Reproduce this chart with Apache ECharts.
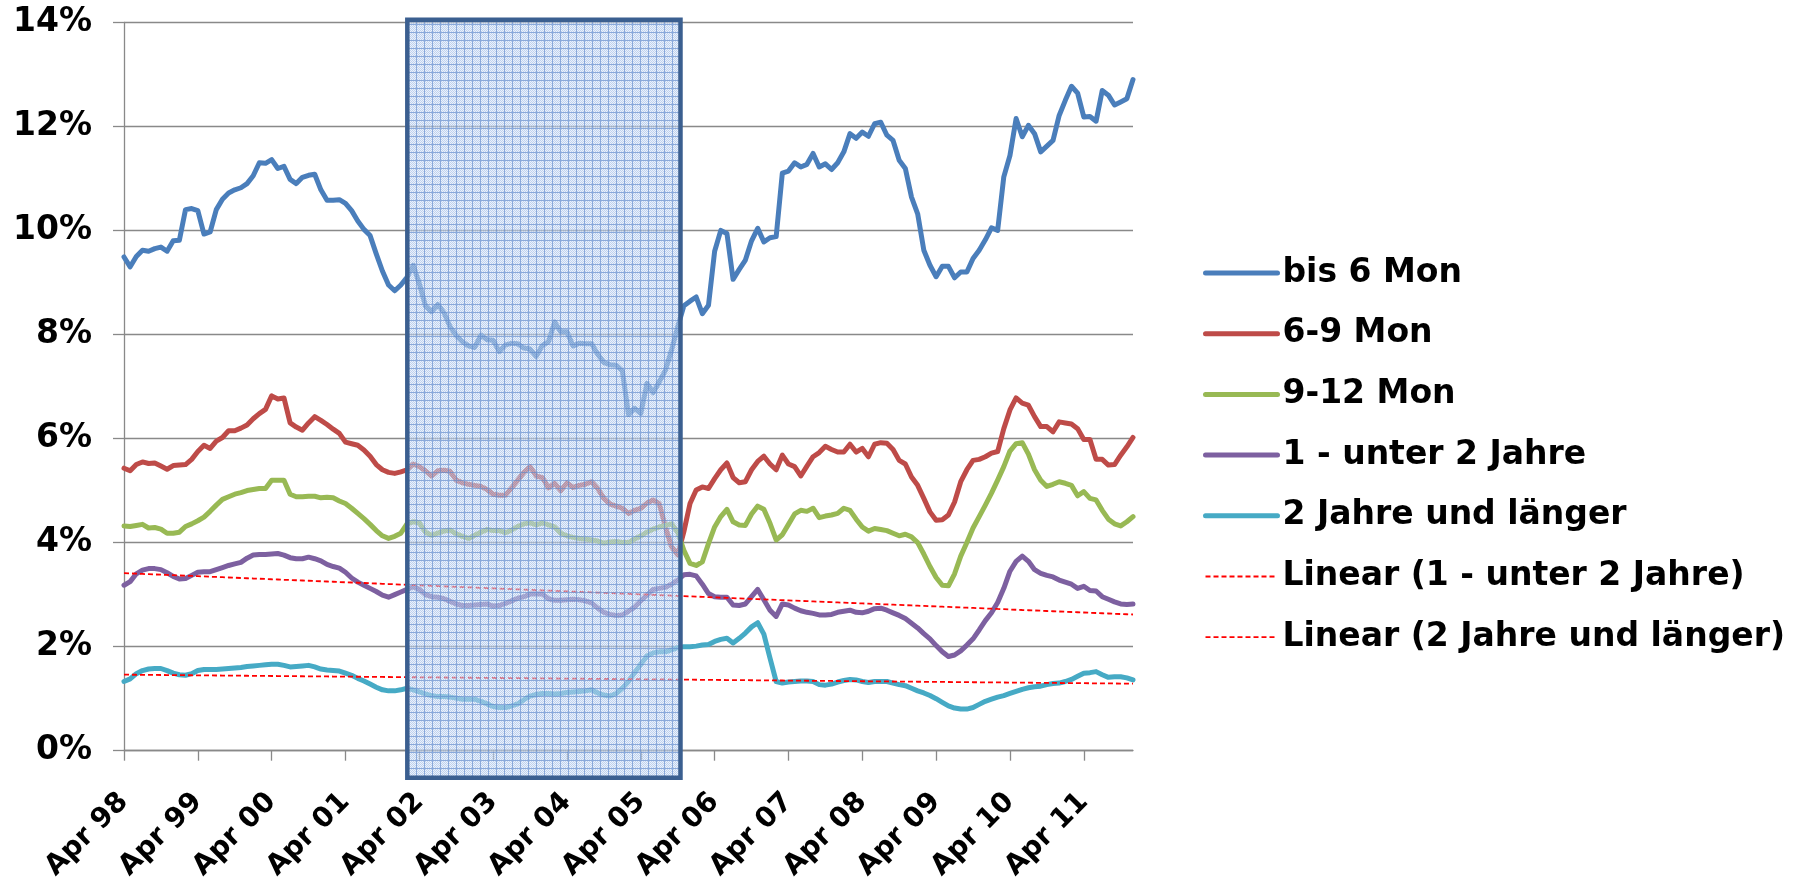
<!DOCTYPE html>
<html>
<head>
<meta charset="utf-8">
<script src="https://cdn.jsdelivr.net/npm/echarts@6/dist/echarts.min.js"></script>
<style>
  html, body { margin: 0; padding: 0; background: #ffffff; }
  #chart { width: 1798px; height: 881px; }
</style>
</head>
<body>
<div id="chart"></div>
<script>
// Monthly series, April 1998 to December 2011 (values in %)
const MONTH_NAMES = ['Jan', 'Feb', 'Mrz', 'Apr', 'Mai', 'Jun', 'Jul', 'Aug', 'Sep', 'Okt', 'Nov', 'Dez'];
const START_YEAR = 1998;
const START_MONTH = 3;      // April (0-based)
const MONTH_COUNT = 165;

const seriesNames = ['bis 6 Mon', '6-9 Mon', '9-12 Mon', '1 - unter 2 Jahre', '2 Jahre und länger'];
const trendNames = ['Linear (1 - unter 2 Jahre)', 'Linear (2 Jahre und länger)'];

const bis6Mon = [
  9.49, 9.30, 9.50, 9.62, 9.60, 9.65, 9.68, 9.60, 9.80, 9.81, 10.40, 10.42,
  10.38, 9.93, 9.97, 10.40, 10.60, 10.72, 10.78, 10.82, 10.90, 11.05, 11.30, 11.29,
  11.36, 11.19, 11.23, 10.98, 10.90, 11.02, 11.06, 11.08, 10.78, 10.58, 10.58, 10.59,
  10.52, 10.38, 10.18, 10.02, 9.90, 9.55, 9.22, 8.95, 8.84, 8.95, 9.10, 9.33,
  8.98, 8.55, 8.44, 8.58, 8.42, 8.15, 7.98, 7.86, 7.78, 7.75, 7.99, 7.90,
  7.89, 7.67, 7.80, 7.83, 7.82, 7.74, 7.72, 7.58, 7.79, 7.86, 8.24, 8.05,
  8.05, 7.78, 7.83, 7.82, 7.82, 7.62, 7.46, 7.42, 7.41, 7.30, 6.46, 6.58,
  6.48, 7.06, 6.88, 7.09, 7.31, 7.70, 8.15, 8.55, 8.64, 8.72, 8.40, 8.56,
  9.60, 10.00, 9.94, 9.06, 9.25, 9.43, 9.80, 10.04, 9.78, 9.86, 9.88, 11.10,
  11.14, 11.30, 11.22, 11.27, 11.48, 11.22, 11.28, 11.17, 11.30, 11.51, 11.86, 11.77,
  11.89, 11.81, 12.05, 12.08, 11.83, 11.73, 11.35, 11.19, 10.64, 10.32, 9.62, 9.33,
  9.11, 9.31, 9.31, 9.09, 9.20, 9.20, 9.46, 9.62, 9.82, 10.05, 10.00, 11.03,
  11.44, 12.15, 11.80, 12.02, 11.86, 11.51, 11.62, 11.73, 12.21, 12.50, 12.77, 12.64,
  12.18, 12.19, 12.10, 12.69, 12.60, 12.41, 12.47, 12.53, 12.90
];

const mon6bis9 = [
  5.43, 5.38, 5.50, 5.55, 5.52, 5.53, 5.47, 5.41, 5.48, 5.49, 5.50, 5.60,
  5.75, 5.87, 5.81, 5.95, 6.02, 6.15, 6.15, 6.20, 6.26, 6.38, 6.48, 6.56,
  6.82, 6.76, 6.78, 6.30, 6.22, 6.16, 6.30, 6.42, 6.35, 6.27, 6.18, 6.10,
  5.93, 5.90, 5.87, 5.78, 5.66, 5.50, 5.40, 5.35, 5.33, 5.36, 5.40, 5.51,
  5.46, 5.38, 5.28, 5.38, 5.39, 5.37, 5.20, 5.15, 5.12, 5.10, 5.08, 5.02,
  4.93, 4.91, 4.91, 5.05, 5.20, 5.35, 5.46, 5.28, 5.25, 5.05, 5.14, 5.00,
  5.15, 5.06, 5.10, 5.12, 5.17, 5.04, 4.85, 4.74, 4.70, 4.66, 4.56, 4.62,
  4.66, 4.76, 4.82, 4.75, 4.30, 3.92, 3.76, 4.21, 4.75, 5.01, 5.07, 5.04,
  5.23, 5.40, 5.53, 5.25, 5.15, 5.17, 5.40, 5.56, 5.66, 5.51, 5.40, 5.68,
  5.51, 5.46, 5.28, 5.47, 5.65, 5.73, 5.85, 5.79, 5.74, 5.74, 5.89, 5.74,
  5.81, 5.65, 5.89, 5.92, 5.91, 5.79, 5.58, 5.51, 5.26, 5.10, 4.85, 4.59,
  4.43, 4.44, 4.53, 4.78, 5.17, 5.40, 5.58, 5.60, 5.65, 5.72, 5.75, 6.19,
  6.55, 6.78, 6.68, 6.64, 6.42, 6.23, 6.23, 6.13, 6.32, 6.30, 6.28, 6.19,
  5.98, 5.98, 5.60, 5.60, 5.49, 5.50, 5.68, 5.84, 6.02
];

const mon9bis12 = [
  4.32, 4.31, 4.33, 4.35, 4.28, 4.29, 4.26, 4.18, 4.18, 4.20, 4.31, 4.36,
  4.42, 4.49, 4.60, 4.72, 4.83, 4.88, 4.93, 4.96, 5.00, 5.02, 5.04, 5.04,
  5.20, 5.20, 5.20, 4.93, 4.88, 4.88, 4.89, 4.89, 4.86, 4.87, 4.86, 4.80,
  4.75, 4.66, 4.56, 4.46, 4.35, 4.23, 4.13, 4.08, 4.12, 4.18, 4.36, 4.40,
  4.38, 4.20, 4.14, 4.18, 4.22, 4.24, 4.17, 4.12, 4.08, 4.14, 4.20, 4.25,
  4.23, 4.23, 4.19, 4.24, 4.31, 4.36, 4.38, 4.34, 4.38, 4.34, 4.30, 4.18,
  4.13, 4.10, 4.08, 4.07, 4.05, 4.03, 3.99, 4.01, 4.02, 4.00, 4.00, 4.07,
  4.13, 4.20, 4.26, 4.30, 4.33, 4.36, 4.20, 3.85, 3.60, 3.56, 3.63, 3.98,
  4.30, 4.50, 4.64, 4.40, 4.34, 4.33, 4.55, 4.70, 4.64, 4.37, 4.05, 4.15,
  4.35, 4.55, 4.62, 4.60, 4.66, 4.48, 4.51, 4.53, 4.56, 4.66, 4.62, 4.45,
  4.30, 4.22, 4.27, 4.25, 4.23, 4.18, 4.13, 4.16, 4.11, 4.00, 3.78, 3.54,
  3.33, 3.18, 3.17, 3.40, 3.74, 4.00, 4.28, 4.50, 4.72, 4.95, 5.20, 5.46,
  5.76, 5.90, 5.92, 5.70, 5.40, 5.20, 5.08, 5.12, 5.17, 5.14, 5.10, 4.90,
  4.98, 4.85, 4.82, 4.62, 4.45, 4.36, 4.32, 4.40, 4.50
];

const jahre1bis2 = [
  3.18, 3.25, 3.40, 3.47, 3.50, 3.50, 3.48, 3.42, 3.35, 3.30, 3.31, 3.37,
  3.43, 3.44, 3.44, 3.48, 3.52, 3.56, 3.59, 3.62, 3.70, 3.76, 3.77, 3.77,
  3.78, 3.79, 3.76, 3.71, 3.69, 3.69, 3.72, 3.69, 3.65, 3.58, 3.54, 3.51,
  3.43, 3.32, 3.24, 3.18, 3.12, 3.06, 2.99, 2.95, 3.00, 3.05, 3.10, 3.15,
  3.10, 3.00, 2.96, 2.95, 2.92, 2.87, 2.82, 2.79, 2.79, 2.80, 2.81, 2.82,
  2.78, 2.79, 2.83, 2.88, 2.93, 2.96, 3.01, 3.01, 3.01, 2.92, 2.89, 2.89,
  2.90, 2.91, 2.90, 2.88, 2.84, 2.74, 2.66, 2.62, 2.60, 2.61, 2.68, 2.76,
  2.88, 2.99, 3.10, 3.12, 3.14, 3.20, 3.28, 3.38, 3.39, 3.36, 3.20, 3.02,
  2.96, 2.95, 2.95, 2.80, 2.79, 2.82, 2.96, 3.10, 2.90, 2.70, 2.58, 2.82,
  2.80, 2.74, 2.69, 2.66, 2.64, 2.61, 2.61, 2.62, 2.66, 2.68, 2.70, 2.66,
  2.65, 2.68, 2.73, 2.74, 2.70, 2.65, 2.60, 2.54, 2.45, 2.36, 2.25, 2.15,
  2.02, 1.90, 1.81, 1.84, 1.92, 2.03, 2.15, 2.32, 2.50, 2.65, 2.85, 3.12,
  3.45, 3.64, 3.74, 3.64, 3.48, 3.41, 3.37, 3.34, 3.28, 3.24, 3.20, 3.12,
  3.16, 3.08, 3.07, 2.96, 2.91, 2.86, 2.82, 2.81, 2.82
];

const jahre2plus = [
  1.33, 1.38, 1.48, 1.54, 1.57, 1.58, 1.58, 1.54, 1.49, 1.46, 1.45, 1.48,
  1.54, 1.56, 1.56, 1.56, 1.57, 1.58, 1.59, 1.60, 1.62, 1.63, 1.64, 1.65,
  1.66, 1.66, 1.64, 1.61, 1.62, 1.63, 1.64, 1.61, 1.57, 1.55, 1.54, 1.53,
  1.49, 1.45, 1.39, 1.34, 1.28, 1.22, 1.17, 1.15, 1.15, 1.17, 1.20, 1.17,
  1.13, 1.09, 1.06, 1.04, 1.04, 1.03, 1.01, 0.99, 0.99, 0.99, 0.95, 0.90,
  0.85, 0.83, 0.83, 0.86, 0.90, 0.98, 1.05, 1.08, 1.10, 1.10, 1.09, 1.10,
  1.12, 1.13, 1.14, 1.15, 1.17, 1.11, 1.07, 1.05, 1.10, 1.20, 1.33, 1.50,
  1.66, 1.82, 1.88, 1.90, 1.90, 1.94, 1.98, 2.00, 2.00, 2.01, 2.03, 2.04,
  2.10, 2.14, 2.16, 2.07, 2.16, 2.26, 2.38, 2.46, 2.24, 1.78, 1.33, 1.30,
  1.32, 1.33, 1.34, 1.34, 1.33, 1.27, 1.26, 1.28, 1.32, 1.35, 1.37, 1.36,
  1.33, 1.31, 1.33, 1.33, 1.33, 1.30, 1.27, 1.25, 1.20, 1.15, 1.11, 1.06,
  1.00, 0.93, 0.86, 0.82, 0.80, 0.80, 0.83, 0.89, 0.95, 0.99, 1.03, 1.06,
  1.10, 1.14, 1.18, 1.21, 1.23, 1.24, 1.27, 1.29, 1.30, 1.33, 1.37, 1.43,
  1.49, 1.50, 1.52, 1.46, 1.41, 1.42, 1.42, 1.40, 1.36
];

// Highlighted period (month index from Apr 98) and its vertical span in %
const highlightStart = 46.05;
const highlightEnd = 90.45;
const highlightLow = -0.52;
const highlightHigh = 14.05;

// Category labels: "Apr 98", "Mai 98", ...
const categories = [];
for (let k = 0; k < MONTH_COUNT; k++) {
  const m = (START_MONTH + k) % 12;
  const y = START_YEAR + Math.floor((START_MONTH + k) / 12);
  categories.push(MONTH_NAMES[m] + ' ' + String(y % 100).padStart(2, '0'));
}

// Least-squares linear trend, as a spreadsheet "Linear" trendline
function linearTrend(values) {
  const n = values.length;
  let sx = 0, sy = 0, sxx = 0, sxy = 0;
  values.forEach((v, i) => { const x = i + 1; sx += x; sy += v; sxx += x * x; sxy += x * v; });
  const slope = (n * sxy - sx * sy) / (n * sxx - sx * sx);
  const icpt = (sy - slope * sx) / n;
  return values.map((_, i) => +(icpt + slope * (i + 1)).toFixed(4));
}

// Hatched blue fill for the highlighted period
function makeTile() {
  const c = document.createElement('canvas');
  c.width = 8; c.height = 8;
  const g = c.getContext('2d');
  for (let y = 0; y < 8; y++) {
    for (let x = 0; x < 8; x++) {
      if (x === 0 || y === 0) g.fillStyle = 'rgba(118,154,212,0.85)';
      else if ((x + y) % 2 === 0) g.fillStyle = 'rgba(172,198,236,0.78)';
      else g.fillStyle = 'rgba(212,224,245,0.45)';
      g.fillRect(x, y, 1, 1);
    }
  }
  return c;
}

const FONT = 'DejaVu Sans';
const GRID_COLOR = '#898989';
const colors = ['#4A7EBB', '#BE4B48', '#98B954', '#7D60A0', '#46AAC5'];
const seriesData = [bis6Mon, mon6bis9, mon9bis12, jahre1bis2, jahre2plus];

const lineSeries = seriesNames.map((name, i) => ({
  name: name,
  type: 'line',
  data: seriesData[i],
  symbol: 'none',
  z: 3,
  lineStyle: { color: colors[i], width: 5, cap: 'round', join: 'round' },
  itemStyle: { color: colors[i] }
}));

const trendSeries = [jahre1bis2, jahre2plus].map((vals, i) => ({
  name: trendNames[i],
  type: 'line',
  data: linearTrend(vals),
  symbol: 'none',
  z: 4,
  lineStyle: { color: '#FF0000', width: 1.8, type: [5, 3] },
  itemStyle: { color: '#FF0000' }
}));

const tile = makeTile();

const highlightSeries = {
  type: 'custom',
  xAxisIndex: 1,
  yAxisIndex: 0,
  z: 10,
  silent: true,
  clip: false,
  data: [[highlightStart, highlightEnd, highlightLow, highlightHigh]],
  encode: { x: [0, 1], y: [2, 3] },
  renderItem: function (params, api) {
    const p0 = api.coord([api.value(0), api.value(3)]);
    const p1 = api.coord([api.value(1), api.value(2)]);
    return {
      type: 'rect',
      shape: { x: p0[0], y: p0[1], width: p1[0] - p0[0], height: p1[1] - p0[1] },
      style: { fill: { image: tile, repeat: 'repeat' }, stroke: '#3B5F90', lineWidth: 4.5 }
    };
  }
};

const legendItems = seriesNames.map(n => ({
  name: n,
  itemStyle: { opacity: 0 },
  lineStyle: { width: 5, cap: 'round' }
})).concat(trendNames.map(n => ({
  name: n,
  itemStyle: { opacity: 0 },
  lineStyle: { width: 1.8, type: [5, 3] }
})));

const chart = echarts.init(document.getElementById('chart'), null, { renderer: 'canvas' });
chart.setOption({
  animation: false,
  backgroundColor: '#ffffff',
  grid: { left: 124, right: 665, top: 22.3, bottom: 130.3, containLabel: false, outerBoundsMode: 'none' },
  legend: {
    orient: 'vertical',
    left: 1198,
    top: 248,
    itemWidth: 72,
    itemHeight: 14,
    itemGap: 20.7,
    selectedMode: false,
    textStyle: { fontFamily: FONT, fontWeight: 'bold', fontSize: 33, color: '#000000', lineHeight: 40 },
    data: legendItems
  },
  xAxis: [{
    type: 'category',
    data: categories,
    boundaryGap: false,
    axisLine: { show: true, lineStyle: { color: GRID_COLOR, width: 1.3 } },
    axisTick: { show: true, interval: 11, length: 10, lineStyle: { color: GRID_COLOR, width: 1.3 } },
    axisLabel: {
      interval: 11, rotate: 45, margin: 47, align: 'right', verticalAlign: 'middle',
      fontFamily: FONT, fontWeight: 'bold', fontSize: 28, color: '#000000'
    },
    splitLine: { show: false }
  }, {
    type: 'value',
    min: 0,
    max: MONTH_COUNT - 1,
    show: false
  }],
  yAxis: {
    type: 'value',
    min: 0,
    max: 14,
    interval: 2,
    axisLine: { show: true, lineStyle: { color: GRID_COLOR, width: 1.3 } },
    axisTick: { show: true, length: 11, lineStyle: { color: GRID_COLOR, width: 1.3 } },
    splitLine: { show: true, lineStyle: { color: GRID_COLOR, width: 1.3 } },
    axisLabel: {
      formatter: '{value}%', margin: 32,
      fontFamily: FONT, fontWeight: 'bold', fontSize: 33, color: '#000000'
    }
  },
  series: lineSeries.concat(trendSeries, [highlightSeries])
});
</script>
</body>
</html>
